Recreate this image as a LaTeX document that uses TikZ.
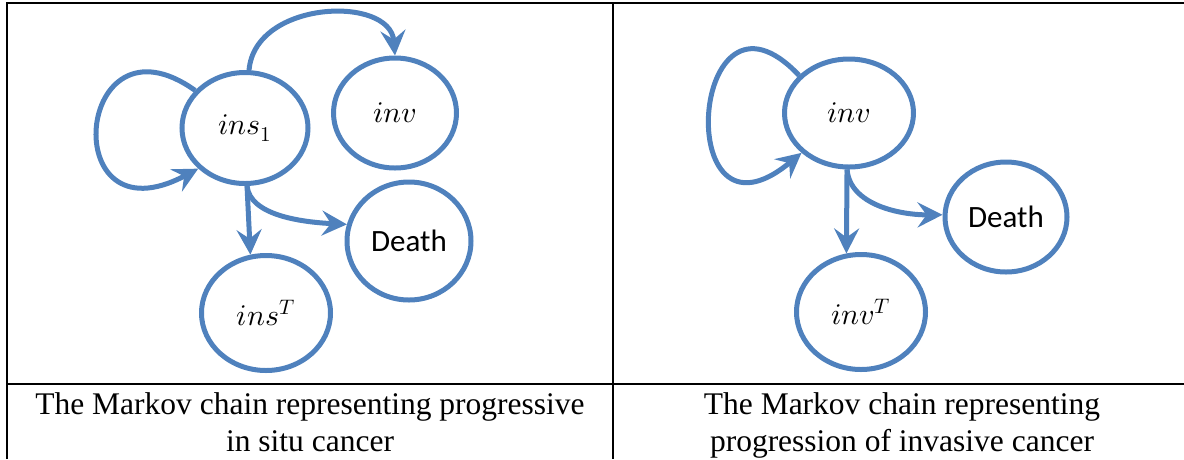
\documentclass[tikz,border=0pt]{standalone}
\usepackage{fontspec}
\usepackage{unicode-math}
\setmainfont{Liberation Serif}
\newfontfamily\deathfont{Carlito}
\usetikzlibrary{shapes.geometric,arrows.meta}
\definecolor{chainblue}{RGB}{79,129,189}
\begin{document}
\begin{tikzpicture}[x=1pt,y=-1pt,
  state/.style={draw=chainblue, line width=5pt, ellipse, inner sep=0pt,
    font=\fontsize{30}{30}\selectfont},
  deathlbl/.style={font=\deathfont\fontsize{31}{31}\selectfont},
  trans/.style={draw=chainblue, line width=5pt,
    -{Stealth[length=25pt,width=25pt,inset=9pt]}},
  rule/.style={line width=2pt, black},
  caption/.style={anchor=base, inner sep=0pt,
    font=\fontsize{31.5}{37}\selectfont}]
\useasboundingbox (0,0) rectangle (1184,459);

% table rules
\draw[rule] (7,459) -- (7,3) -- (1184,3);
\draw[rule] (613,3) -- (613,459);
\draw[rule] (6,384) -- (1184,384);

% progressive in situ cancer
\node[state, minimum width=126pt, minimum height=111pt] (ins1) at (245,128) {$ins_1$};
\node[state, minimum width=123pt, minimum height=110pt] (inva) at (395,113) {$inv$};
\node[state, deathlbl, minimum width=124pt, minimum height=118pt] (deatha) at (409,241) {Death};
\node[state, minimum width=129pt, minimum height=115pt] (insT) at (266,313) {$ins^T$};

\draw[trans] (ins1.143) .. controls (75,5) and (55,245) .. (ins1.221);
\draw[trans] (ins1.86) .. controls (255,0) and (390,-5) .. (inva.north);
\draw[trans] (ins1.272) -- (insT.105);
\draw[trans] (ins1.272) .. controls (250,215) and (300,222) .. (deatha.165);

% progression of invasive cancer
\node[state, minimum width=129pt, minimum height=108pt] (invb) at (849,113) {$inv$};
\node[state, deathlbl, minimum width=122pt, minimum height=110pt] (deathb) at (1006,217) {Death};
\node[state, minimum width=129pt, minimum height=115pt] (invT) at (861,312) {$inv^T$};

\draw[trans] (invb.143) .. controls (690,-40) and (670,262) .. (invb.220);
\draw[trans] (invb.268) -- (invT.104);
\draw[trans] (invb.268) .. controls (850,205) and (900,215) .. (deathb.178);

% captions
\node[caption] (capa1) at (310,414) {The Markov chain representing progressive};
\node[caption] (capa2) at (310,451) {in situ cancer};
\node[caption] (capb1) at (902,414) {The Markov chain representing};
\node[caption] (capb2) at (902,451) {progression of invasive cancer};
\end{tikzpicture}
\end{document}
